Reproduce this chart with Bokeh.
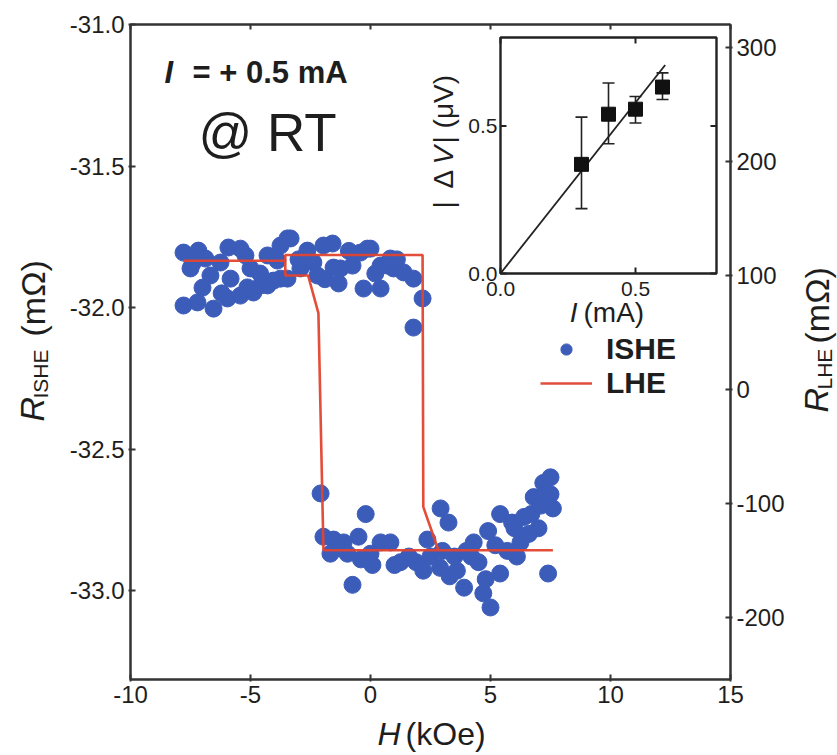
import numpy as np
from bokeh.plotting import figure
from bokeh.layouts import row, column
from bokeh.models import Range1d, LinearAxis, FixedTicker, Label, Legend, LegendItem
from bokeh.embed import file_html
from bokeh.resources import INLINE

# ---------------- data ----------------
# ISHE signal: H (kOe) and R_ISHE (mOhm), upper branch
ishe_top_H = [-7.79, -7.17, -7.50, -7.79, -7.21, -6.54, -6.67, -5.92, -5.96, -5.83, -5.42, -5.00,
              -4.88, -4.29, -4.29, -3.75, -3.75, -3.46, -6.88, -6.25, -5.21, -4.58, -4.04, -5.42,
              -3.33, -2.63, -2.92, -3.46, -2.21, -1.58, -1.25, -1.33, -0.75, -0.42, 0.00, -0.29,
              0.42, 0.42, 0.96, 1.38, 1.79, 2.17, 1.79, 0.83, -2.38, -1.96, -3.00, -1.90, -0.90,
              0.20, 1.10, -4.60, -6.20, -7.00, -7.42, -5.13, -3.88, -1.54, 0.71, -0.13]
ishe_top_R = [-31.806, -31.799, -31.862, -31.993, -31.982, -32.004, -31.887, -31.788, -31.968, -31.898,
              -31.958, -31.862, -31.947, -31.816, -31.922, -31.781, -31.898, -31.756, -31.827, -31.841,
              -31.816, -31.922, -31.905, -31.792, -31.756, -31.799, -31.862, -31.898, -31.887, -31.774,
              -31.862, -31.915, -31.852, -31.806, -31.792, -31.933, -31.933, -31.852, -31.862, -31.876,
              -31.898, -31.968, -32.071, -31.827, -31.841, -31.781, -31.830, -31.900, -31.800, -31.880,
              -31.830, -31.880, -31.950, -31.930, -31.845, -31.929, -31.834, -31.859, -31.852, -31.792]
# lower branch
ishe_bot_H = [-2.08, -1.96, -1.54, -1.12, -0.50, -0.20, 0.08, -0.75, 0.42, 0.83, 1.25, -0.96, -1.67,
              2.92, 3.25, 2.37, 2.20, 2.90, 3.60, 3.90, 4.70, 5.00, 4.30, 4.90, 5.40, 5.40, 6.00,
              6.25, 6.10, 6.70, 6.80, 7.20, 7.50, 7.60, 7.40, 7.00, 5.70, 4.20, 3.50, 1.60, 1.90,
              2.50, 3.00, 0.00, -0.40, 1.00, 3.30, 4.50, 4.00, 5.20, 5.90, 6.40, 7.10, 6.60, -1.40,
              4.80, 7.30, 7.50]
ishe_bot_R = [-32.657, -32.81, -32.82, -32.83, -32.81, -32.73, -32.91, -32.98, -32.83, -32.83, -32.90,
              -32.87, -32.87, -32.71, -32.76, -32.82, -32.93, -32.92, -32.93, -32.99, -33.01, -33.06,
              -32.83, -32.79, -32.73, -32.94, -32.78, -32.83, -32.88, -32.73, -32.67, -32.62, -32.66,
              -32.71, -32.94, -32.78, -32.86, -32.88, -32.88, -32.88, -32.90, -32.88, -32.86, -32.87,
              -32.89, -32.91, -32.95, -32.90, -32.86, -32.84, -32.76, -32.74, -32.70, -32.80, -32.85,
              -32.96, -32.66, -32.60]

# LHE loop: H (kOe) and R_LHE (mOhm)
lhe_H = [7.6, 2.83, -1.96, -2.17, -2.6, -3.55, -3.55, -7.8, -3.55, -3.55, 2.17, 2.2, 2.83, 7.6]
lhe_R = [-141, -141, -141, 67, 100, 100, 113, 113, 113, 118, 118, -103, -141, -141]

# inset: |dV| (uV) vs I (mA)
inset_I = [0.3, 0.4, 0.5, 0.6]
inset_V = [0.37, 0.54, 0.557, 0.632]
inset_lo = [0.22, 0.44, 0.51, 0.59]
inset_hi = [0.53, 0.646, 0.60, 0.68]
fit_I = [0.0, 0.61]
fit_V = [0.0, 0.707]

x_ticks = [-10, -5, 0, 5, 10, 15]
x_tick_labels = ["-10", "-5", "0", "5", "10", "15"]
yl_ticks = [-33.0, -32.5, -32.0, -31.5, -31.0]
yl_tick_labels = ["-33.0", "-32.5", "-32.0", "-31.5", "-31.0"]
yr_ticks = [-200, -100, 0, 100, 200, 300]
yr_tick_labels = ["-200", "-100", "0", "100", "200", "300"]
in_ticks = [0.0, 0.5]
in_tick_labels = ["0.0", "0.5"]

# ---------------- layout constants (page px) ----------------
FONT = "Liberation Sans"
TXT = "#1e1e1e"
AX = "#333333"
BLUE = "#3c5cba"
RED = "#e2452f"
W, H = 837, 755
LW = 60            # left title panel width
RW = 42            # right title panel width
MH = 717           # main figure height
FL, FR, FT, FB = 130, 730, 24, 679          # main frame in page px
IL, IR, IT, IB = 500, 716, 37, 273          # inset frame in page px
X0, X1 = -10.0, 15.0
YL1 = -31.0
YL0 = YL1 - (FB - FT) / 283.0
YR0, YR1 = -254.4, 320.2
MW = W - LW - RW


def hx(px):
    return X0 + (px - FL) * (X1 - X0) / (FR - FL)


def ry(py):
    return YL1 - (py - FT) * (YL1 - YL0) / (FB - FT)


# inset ranges mapped onto the main frame
IXMAX, IYMAX = 0.8, 0.8
ixpp = IXMAX / (IR - IL)
iypp = IYMAX / (IB - IT)
IX0 = -(IL - FL) * ixpp
IX1 = IXMAX + (FR - IR) * ixpp
IY0 = -(FB - IB) * iypp
IY1 = IYMAX + (IT - FT) * iypp


def ix(px):
    return (px - IL) * ixpp


def iy(py):
    return (IB - py) * iypp


p = figure(width=MW, height=MH, x_range=Range1d(X0, X1), y_range=Range1d(YL0, YL1),
           output_backend="svg", toolbar_location=None,
           min_border_left=FL - LW, min_border_right=(LW + MW) - FR, min_border_top=FT,
           min_border_bottom=MH - FB)
p.extra_y_ranges = {"lhe": Range1d(YR0, YR1), "iy": Range1d(IY0, IY1)}
p.extra_x_ranges = {"ix": Range1d(IX0, IX1)}
p.grid.visible = False
p.outline_line_color = AX
p.outline_line_width = 2
p.background_fill_color = "white"
p.border_fill_color = "white"


def style_axis(ax, size="24px"):
    ax.axis_line_color = AX
    ax.axis_line_width = 2
    ax.major_tick_line_color = AX
    ax.major_tick_line_width = 2
    ax.major_tick_in = 5
    ax.major_tick_out = 2
    ax.minor_tick_line_color = None
    ax.major_label_text_font = FONT
    ax.major_label_text_font_size = size
    ax.major_label_text_color = TXT
    ax.major_label_standoff = 4


xa = p.below[0]
style_axis(xa)
xa.ticker = FixedTicker(ticks=x_ticks)
xa.major_label_overrides = dict(zip(x_ticks, x_tick_labels))

ya = p.left[0]
style_axis(ya)
ya.ticker = FixedTicker(ticks=yl_ticks)
ya.major_label_overrides = dict(zip(yl_ticks, yl_tick_labels))

ra = LinearAxis(y_range_name="lhe", ticker=FixedTicker(ticks=yr_ticks))
style_axis(ra)
ra.major_label_overrides = dict(zip(yr_ticks, yr_tick_labels))
p.add_layout(ra, "right")

ta = LinearAxis(ticker=FixedTicker(ticks=x_ticks))
style_axis(ta)
ta.major_label_overrides = {t: "" for t in x_ticks}
ta.major_tick_out = 0
ta.major_label_standoff = 0
p.add_layout(ta, "above")

# ---------------- main data ----------------
sc = p.scatter(ishe_top_H + ishe_bot_H, ishe_top_R + ishe_bot_R, size=17, marker="circle",
               fill_color=BLUE, line_color=BLUE)
ln = p.line(lhe_H, lhe_R, y_range_name="lhe", line_color=RED, line_width=2.6, line_alpha=0.95)

legend = Legend(items=[LegendItem(label="ISHE", renderers=[sc]), LegendItem(label="LHE", renderers=[ln])],
                location=(540 - FL, FB - 400), orientation="vertical", padding=0, margin=0, spacing=0,
                glyph_width=52, glyph_height=28, label_height=28, label_standoff=14,
                label_text_font=FONT, label_text_font_size="30px", label_text_font_style="bold",
                label_text_color=TXT, border_line_alpha=0, background_fill_alpha=0)
p.add_layout(legend)

# ---------------- inset ----------------
p.quad(left=[0], right=[IXMAX], bottom=[0], top=[IYMAX], x_range_name="ix", y_range_name="iy",
       fill_color="white", line_color="#222222", line_width=2.4)
tlx = 6 * ixpp
tly = 6 * iypp
p.segment(x0=in_ticks, y0=[0] * 2, x1=in_ticks, y1=[tly] * 2, x_range_name="ix", y_range_name="iy",
          line_color="#222222", line_width=2)
p.segment(x0=in_ticks, y0=[IYMAX] * 2, x1=in_ticks, y1=[IYMAX - tly] * 2, x_range_name="ix",
          y_range_name="iy", line_color="#222222", line_width=2)
p.segment(x0=[0] * 2, y0=in_ticks, x1=[tlx] * 2, y1=in_ticks, x_range_name="ix", y_range_name="iy",
          line_color="#222222", line_width=2)
p.segment(x0=[IXMAX] * 2, y0=in_ticks, x1=[IXMAX - tlx] * 2, y1=in_ticks, x_range_name="ix",
          y_range_name="iy", line_color="#222222", line_width=2)
p.line(fit_I, fit_V, x_range_name="ix", y_range_name="iy", line_color="#222222", line_width=1.8)
cw = 6 * ixpp
p.segment(x0=inset_I, y0=inset_lo, x1=inset_I, y1=inset_hi, x_range_name="ix", y_range_name="iy",
          line_color="#222222", line_width=1.6)
p.segment(x0=[v - cw for v in inset_I], y0=inset_lo, x1=[v + cw for v in inset_I], y1=inset_lo,
          x_range_name="ix", y_range_name="iy", line_color="#222222", line_width=1.6)
p.segment(x0=[v - cw for v in inset_I], y0=inset_hi, x1=[v + cw for v in inset_I], y1=inset_hi,
          x_range_name="ix", y_range_name="iy", line_color="#222222", line_width=1.6)
p.scatter(inset_I, inset_V, marker="square", size=14, x_range_name="ix", y_range_name="iy",
          fill_color="#111111", line_color="#111111")


def lab(fig, x, y, text, size, style="normal", align="left", baseline="middle", angle=0.0,
        xr="default", yr="default"):
    fig.add_layout(Label(x=x, y=y, text=text, text_font=FONT, text_font_size=size,
                         text_font_style=style, text_align=align, text_baseline=baseline,
                         angle=angle, text_color=TXT, x_range_name=xr, y_range_name=yr))


# inset tick labels
for t, s in zip(in_ticks, in_tick_labels):
    lab(p, t, iy(IB + 8), s, "21px", align="center", baseline="top", xr="ix", yr="iy")
    lab(p, ix(IL - 3), t, s, "21px", align="right", baseline="middle", xr="ix", yr="iy")
# inset axis labels
lab(p, ix(577), iy(312), "I", "28px", style="italic", align="right", xr="ix", yr="iy")
lab(p, ix(583), iy(312), "(mA)", "28px", xr="ix", yr="iy")
lab(p, ix(443), iy(208), "|", "28px", angle=np.pi / 2, xr="ix", yr="iy")
lab(p, ix(443), iy(188), "Δ", "28px", angle=np.pi / 2, xr="ix", yr="iy")
lab(p, ix(443), iy(164), "V", "28px", style="italic", angle=np.pi / 2, xr="ix", yr="iy")
lab(p, ix(443), iy(143), " | (μV)", "28px", angle=np.pi / 2, xr="ix", yr="iy")

# in-plot annotations
lab(p, hx(164), ry(72), "I", "31px", style="bold italic")
lab(p, hx(192), ry(72), "= + 0.5 mA", "31px", style="bold")
lab(p, hx(198), ry(132), "@ RT", "53px")


# ---------------- title panels (axis titles) ----------------
def panel(w, h):
    f = figure(width=w, height=h, x_range=Range1d(0, w), y_range=Range1d(h, 0),
               output_backend="svg", toolbar_location=None, x_axis_location=None,
               y_axis_location=None, min_border=0)
    f.grid.visible = False
    f.outline_line_color = None
    f.background_fill_color = "white"
    f.border_fill_color = "white"
    return f


left = panel(LW, H)
lab(left, 31, 421, "R", "34px", style="italic", angle=np.pi / 2)
lab(left, 40, 398, "ISHE", "21px", angle=np.pi / 2)
lab(left, 32, 336, "(mΩ)", "34px", angle=np.pi / 2)

right = panel(RW, H)
RX = LW + MW
lab(right, 815 - RX, 412, "R", "34px", style="italic", angle=np.pi / 2)
lab(right, 824 - RX, 389, "LHE", "21px", angle=np.pi / 2)
lab(right, 816 - RX, 343, "(mΩ)", "34px", angle=np.pi / 2)

bottom = panel(MW, H - MH)
lab(bottom, 391 - LW, 733 - MH, "H", "32px", style="italic", align="right")
lab(bottom, 397 - LW, 733 - MH, "(kOe)", "32px")

layout = row(left, column(p, bottom, spacing=0), right, spacing=0)

open("out.html", "w").write(file_html(layout, INLINE))
